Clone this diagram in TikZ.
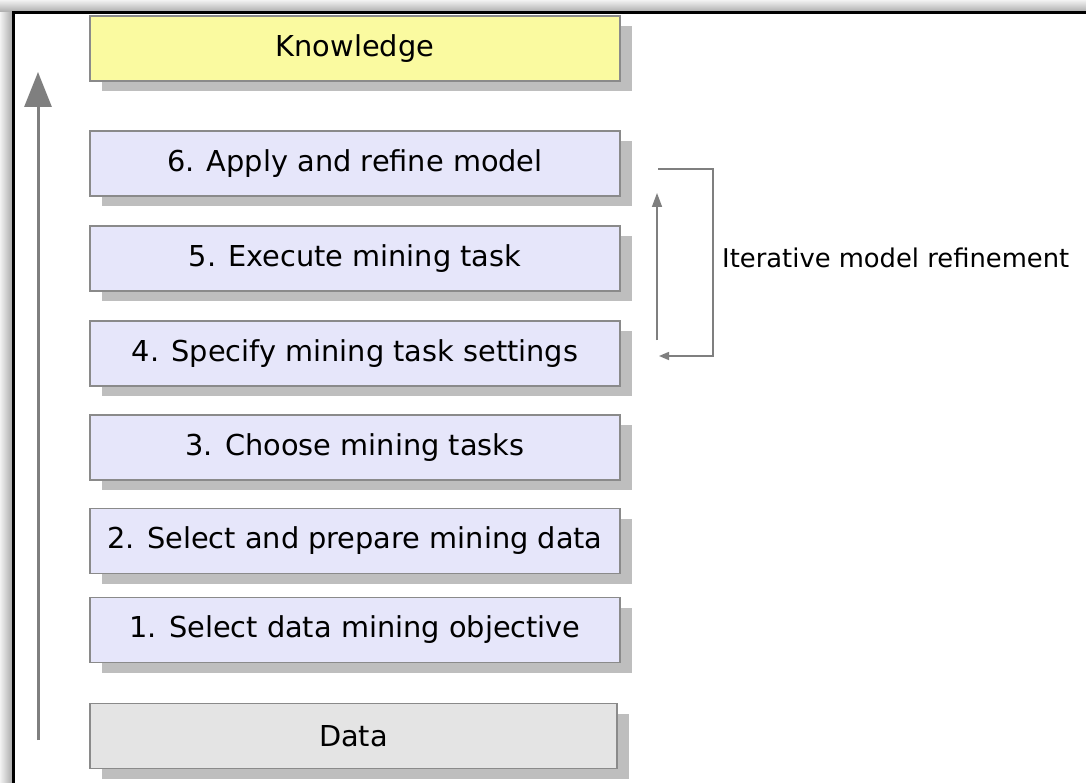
\documentclass[tikz,border=0pt]{standalone}
\usepackage{fontspec}
\setmainfont{DejaVu Sans}
\usetikzlibrary{arrows.meta,shadows}
\definecolor{lav}{HTML}{E6E6FA}
\definecolor{yel}{HTML}{FAFAA0}
\definecolor{dgray}{HTML}{E4E4E4}
\definecolor{bord}{HTML}{8A8A8A}
\definecolor{shad}{HTML}{BEBEBE}
\definecolor{arr}{HTML}{7F7F7F}
\tikzset{
  stepbox/.style={draw=bord, line width=1.5pt, fill=lav, minimum width=530pt, minimum height=65pt,
    inner sep=0pt, font=\fontsize{28.8}{32}\selectfont,
    drop shadow={shadow xshift=12pt, shadow yshift=-10pt, fill=shad, opacity=1}},
  conn/.style={draw=arr, line width=1.5pt}
}
\begin{document}
\begin{tikzpicture}[x=1pt,y=-1pt]
\useasboundingbox (0,0) rectangle (1086,783);
\fill[white] (0,0) rectangle (1086,783);
% outer frame shadow
\shade[top color=gray!10, bottom color=gray!70] (0,0) rectangle (1086,13);
\shade[left color=gray!10, right color=gray!70] (0,13) rectangle (13,783);
\draw[line width=3pt] (13,790) -- (13,13) -- (1095,13);
% boxes
\node[stepbox, fill=yel] (know) at (355,48.5) {Knowledge};
\node[stepbox] (s6) at (355,163.5) {6. Apply and refine model};
\node[stepbox] (s5) at (355,258.5) {5. Execute mining task};
\node[stepbox] (s4) at (355,353.5) {4. Specify mining task settings};
\node[stepbox] (s3) at (355,447.5) {3. Choose mining tasks};
\node[stepbox] (s2) at (355,541) {2. Select and prepare mining data};
\node[stepbox] (s1) at (355,630) {1. Select data mining objective};
\node[stepbox, fill=dgray, minimum width=527pt] (data) at (353.5,736) {Data};
% main arrow
\coordinate (mb) at (38,740);
\coordinate (mt) at (38,72);
\draw[draw=arr, line width=3pt, -{Triangle[width=27pt,length=35pt]}] (mb) -- (mt);
% iteration bracket
\coordinate (bt) at (658,169);
\coordinate (btr) at (713,169);
\coordinate (bbr) at (713,356);
\coordinate (bb) at (659,356);
\draw[conn, -{Triangle[width=8pt,length=10pt]}] (bt) -- (btr) -- (bbr) -- (bb);
\coordinate (ub) at (657,340);
\coordinate (ut) at (657,193);
\draw[conn, -{Triangle[width=10pt,length=14pt]}] (ub) -- (ut);
\node[anchor=west, font=\fontsize{25.8}{30}\selectfont, inner sep=0pt] (lbl) at (722,258) {Iterative model refinement};
\end{tikzpicture}
\end{document}
